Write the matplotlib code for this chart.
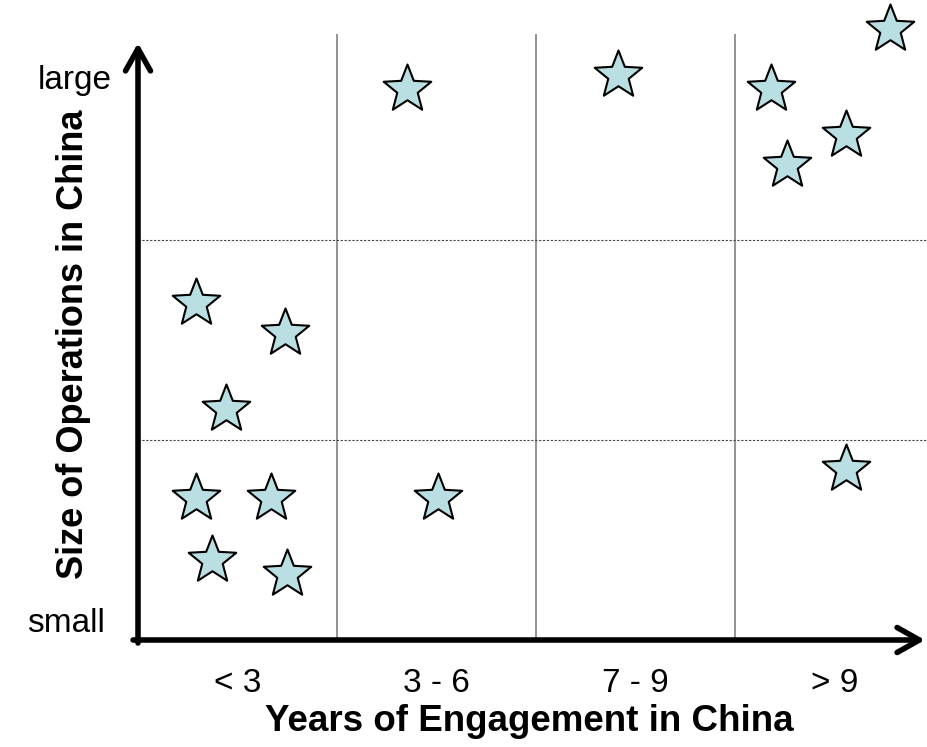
import matplotlib

matplotlib.use("Agg")
import matplotlib.pyplot as plt
from matplotlib.path import Path

plt.rcParams["font.family"] = ["Liberation Sans", "DejaVu Sans"]

# years-of-engagement buckets and size extremes
categories = ["< 3", "3 - 6", "7 - 9", "> 9"]
size_labels = ["small", "large"]

# one star per company: x in bucket units, y in size units (3 bands)
years = [1.35, 2.41, 3.18, 3.78, 3.56, 3.26,
         0.29, 0.74, 0.44, 3.56,
         0.29, 0.67, 1.51, 0.37, 0.75]
size = [2.755, 2.825, 2.755, 3.055, 2.525, 2.375,
        1.685, 1.535, 1.155, 0.855,
        0.71, 0.71, 0.71, 0.40, 0.33]

X_MAX = 3.955
Y_MAX = 2.985

# a slightly plumper five-point star than the stock "*"
star = Path.unit_regular_star(5, innerCircle=0.43)

fig = plt.figure(figsize=(9.27, 7.47), dpi=100)
ax = fig.add_axes([138 / 927, 107 / 747, 787 / 927, 597 / 747])
ax.set_xlim(0, X_MAX)
ax.set_ylim(0, Y_MAX)
for s in ax.spines.values():
    s.set_visible(False)

# quadrant grid
ax.vlines([1, 2, 3], 0, 3.03, color="#808080", lw=1.2, clip_on=False, zorder=1)
ax.hlines([1, 2], 0, 3.965, color="#444444", lw=0.8, linestyles=(0, (2, 1.5)),
          clip_on=False, zorder=1)

# axes drawn as arrows
arrow = dict(arrowstyle="->, head_length=0.8, head_width=0.45", lw=4,
             color="black", mutation_scale=20, shrinkA=0, shrinkB=0)
ax.annotate("", xy=(X_MAX, 0), xytext=(-0.025, 0), arrowprops=arrow,
            annotation_clip=False)
ax.annotate("", xy=(0, Y_MAX), xytext=(0, -0.015), arrowprops=arrow,
            annotation_clip=False)

ax.plot(years, size, linestyle="none", marker=star, markersize=36,
        markerfacecolor="#B9DFE2", markeredgecolor="black",
        markeredgewidth=1.5, clip_on=False, zorder=3)

ax.set_xticks([i + 0.5 for i in range(len(categories))], categories)
ax.tick_params(axis="x", length=0, pad=20, labelsize=24)
ax.set_yticks([])

ax.text(-0.166, 0.085, size_labels[0], ha="right", va="center", fontsize=24)
ax.text(-0.13, 2.80, size_labels[1], ha="right", va="center", fontsize=24)

ax.set_xlabel("Years of Engagement in China", fontsize=26.5, fontweight="bold",
              va="center")
ax.xaxis.set_label_coords(0.497, -0.136)
ax.set_ylabel("Size of Operations in China", fontsize=26, fontweight="bold",
              va="center")
ax.yaxis.set_label_coords(-0.082, 0.496)

fig.savefig("out.png", dpi=100)
